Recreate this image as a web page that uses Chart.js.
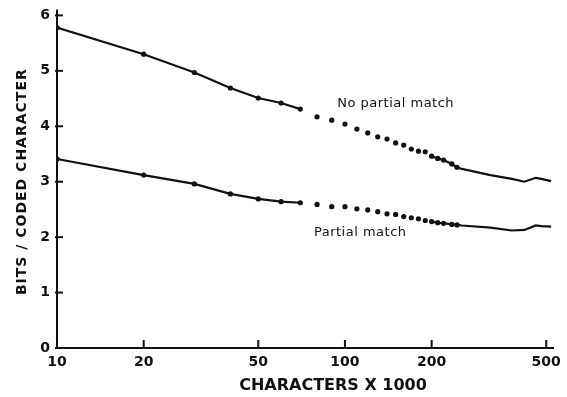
<!DOCTYPE html>
<html>
<head>
<meta charset="utf-8">
<script src="https://cdn.jsdelivr.net/npm/chart.js@4"></script>
<style>
  body { margin: 0; background: #fff; }
  #wrap { width: 567px; height: 397px; }
</style>
</head>
<body>
<div id="wrap"><canvas id="chart" width="567" height="397"></canvas></div>
<script>
// characters coded (x 1000)
const charsK = [10, 20, 30, 40, 50, 60, 70, 80, 90, 100, 110, 120, 130, 140, 150, 160, 170, 180, 190, 200,
  210, 220, 235, 245, 255, 320, 380, 420, 460, 480, 520];
// bits per coded character
const noPartial = [5.78, 5.30, 4.97, 4.69, 4.51, 4.42, 4.31, 4.17, 4.11, 4.04, 3.95, 3.88, 3.81, 3.77, 3.70, 3.66, 3.59, 3.55, 3.54, 3.46,
  3.42, 3.39, 3.32, 3.26, 3.23, 3.12, 3.05, 3.00, 3.07, 3.05, 3.01];
const partial = [3.41, 3.12, 2.96, 2.78, 2.69, 2.64, 2.62, 2.59, 2.55, 2.55, 2.51, 2.49, 2.46, 2.42, 2.41, 2.37, 2.35, 2.33, 2.30, 2.28,
  2.26, 2.25, 2.23, 2.22, 2.21, 2.17, 2.12, 2.13, 2.21, 2.20, 2.19];
const xTicks = [10, 20, 50, 100, 200, 500];
const yTicks = [0, 1, 2, 3, 4, 5, 6];
const seriesLabels = [
  { text: 'No partial match', x: 150, y: 4.40 },
  { text: 'Partial match', x: 113, y: 2.08 }
];
const xTitle = 'CHARACTERS X 1000';
const yTitle = 'BITS / CODED CHARACTER';

const ink = '#111';
const face = '"DejaVu Sans", "Liberation Sans", sans-serif';

function makeSet(label, ys) {
  return {
    label: label,
    data: charsK.map((x, i) => ({ x: x, y: ys[i] })),
    borderColor: ink,
    backgroundColor: ink,
    borderWidth: 2.2,
    tension: 0,
    pointRadius: ctx => charsK[ctx.dataIndex] > 250 ? 0 : 2.6,
    pointBorderWidth: 0,
    segment: {
      borderColor: ctx => (charsK[ctx.p0DataIndex] >= 70 && charsK[ctx.p1DataIndex] <= 200) ? 'transparent' : ink
    }
  };
}

const decorations = {
  id: 'decorations',
  afterDraw(chart) {
    const c = chart.ctx, xs = chart.scales.x, ys = chart.scales.y;
    c.save();
    c.strokeStyle = ink;
    c.lineWidth = 2;
    // small extension of the y axis above 6
    c.beginPath(); c.moveTo(xs.left, ys.top); c.lineTo(xs.left, ys.top - 6); c.stroke();
    xTicks.forEach(v => {
      const px = xs.getPixelForValue(v);
      c.beginPath(); c.moveTo(px, ys.bottom); c.lineTo(px, ys.bottom - 8); c.stroke();
    });
    yTicks.forEach(v => {
      const py = ys.getPixelForValue(v);
      c.beginPath(); c.moveTo(xs.left - 2, py); c.lineTo(xs.left + 6, py); c.stroke();
    });
    c.fillStyle = ink;
    c.textAlign = 'center';
    c.textBaseline = 'middle';
    c.font = '13px ' + face;
    c.letterSpacing = '0.5px';
    seriesLabels.forEach(l => {
      c.fillText(l.text, xs.getPixelForValue(l.x), ys.getPixelForValue(l.y));
    });
    c.font = 'bold 16px ' + face;
    c.letterSpacing = '0px';
    c.fillText(xTitle, 333, 386);
    c.translate(22, (ys.top + ys.bottom) / 2);
    c.rotate(-Math.PI / 2);
    c.font = 'bold 14px ' + face;
    c.letterSpacing = '1px';
    c.fillText(yTitle, 0, 0);
    c.restore();
  }
};

new Chart(document.getElementById('chart'), {
  type: 'line',
  data: { datasets: [makeSet('No partial match', noPartial), makeSet('Partial match', partial)] },
  plugins: [decorations],
  options: {
    responsive: false,
    animation: false,
    layout: { padding: { top: 14, right: 12 } },
    plugins: { legend: { display: false }, tooltip: { enabled: false } },
    scales: {
      x: {
        type: 'logarithmic',
        min: 10,
        max: 530,
        afterBuildTicks: s => { s.ticks = xTicks.map(v => ({ value: v })); },
        afterFit: s => { s.height = 49; },
        grid: { drawOnChartArea: false, drawTicks: false },
        border: { color: ink, width: 2 },
        ticks: {
          color: ink,
          padding: 6,
          maxRotation: 0,
          autoSkip: false,
          font: { family: face, size: 14, weight: 'bold' },
          callback: v => String(v)
        }
      },
      y: {
        min: 0,
        max: 6,
        afterBuildTicks: s => { s.ticks = yTicks.map(v => ({ value: v })); },
        afterFit: s => { s.width = 57; },
        grid: { drawOnChartArea: false, drawTicks: false },
        border: { color: ink, width: 2 },
        ticks: {
          color: ink,
          padding: 7,
          font: { family: face, size: 14, weight: 'bold' }
        }
      }
    }
  }
});
</script>
</body>
</html>
